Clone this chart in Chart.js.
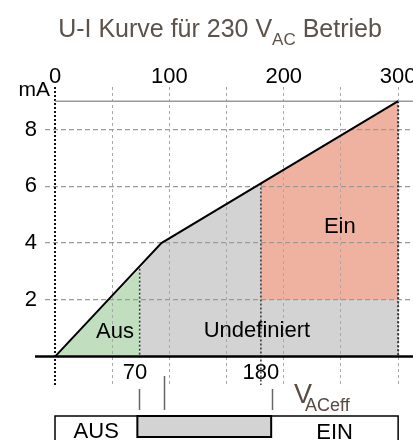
<!DOCTYPE html>
<html>
<head>
<meta charset="utf-8">
<script src="https://cdn.jsdelivr.net/npm/chart.js@4.4.0/dist/chart.umd.min.js"></script>
<style>
  html, body { margin: 0; padding: 0; background: #fff; overflow: hidden; }
  canvas { display: block; }
</style>
</head>
<body>
<canvas id="ui" width="413" height="440"></canvas>
<script>
// U-I curve (x in V, y in mA)
const curveV = [0, 93, 300];
const curveMA = [0, 4, 9];
// zones under the curve
const ausV = [0, 74];
const ausMA = [0, 3.1];
const undefV = [74, 93, 300];
const undefMA = [3.1, 4, 9];
const einV = [180, 300];
const einMA = [6.1, 9];
const einFloor = 2;
// axes
const xGridV = [0, 50, 100, 150, 200, 250, 300];
const xLabelV = [0, 100, 200, 300];
const yTickMA = [2, 4, 6, 8];
const limitV = [70, 180];
// switching bar underneath
const barV = [0, 72, 189, 300];
const barMarkV = [73, 95, 190];

const xMin = -8.75, xMax = 313, yMin = -1, yMax = 9.5;
const FONT = '"Liberation Sans", Arial, sans-serif';

const pts = (xs, ys) => xs.map((v, i) => ({x: v, y: ys[i]}));

const annotate = {
  id: 'annotate',
  afterDraw(chart) {
    const ctx = chart.ctx;
    const x = chart.scales.x, y = chart.scales.y;
    ctx.save();
    ctx.textBaseline = 'alphabetic';

    // title with subscript
    const parts = [['U-I Kurve für 230 V', 25, 0], ['AC', 17, 8], [' Betrieb', 25, 0]];
    let w = 0;
    parts.forEach(p => { ctx.font = p[1] + 'px ' + FONT; w += ctx.measureText(p[0]).width; });
    let tx = 220 - w / 2;
    ctx.fillStyle = '#5b524b';
    ctx.textAlign = 'left';
    parts.forEach(p => {
      ctx.font = p[1] + 'px ' + FONT;
      ctx.fillText(p[0], tx, 37 + p[2]);
      tx += ctx.measureText(p[0]).width;
    });

    // unit
    ctx.fillStyle = '#000';
    ctx.font = '21px ' + FONT;
    ctx.textAlign = 'right';
    ctx.fillText('mA', 50, 96);

    // zone labels
    ctx.textAlign = 'center';
    ctx.font = '22px ' + FONT;
    ctx.fillText('Aus', x.getPixelForValue(52.5), y.getPixelForValue(0.66));
    ctx.fillText('Undefiniert', x.getPixelForValue(176.5), y.getPixelForValue(0.69));
    ctx.fillText('Ein', x.getPixelForValue(249), y.getPixelForValue(4.35));

    // V_ACeff
    ctx.fillStyle = '#5b4a40';
    ctx.textAlign = 'left';
    ctx.font = '27px ' + FONT;
    ctx.fillText('V', 294, 403);
    ctx.font = '18px ' + FONT;
    ctx.fillText('ACeff', 305, 411);

    // marks
    ctx.strokeStyle = '#666';
    ctx.lineWidth = 1.5;
    barMarkV.forEach((v, i) => {
      const px = Math.round(x.getPixelForValue(v)) + 0.5;
      ctx.beginPath();
      ctx.moveTo(px, i === 1 ? 376 : 389);
      ctx.lineTo(px, 410);
      ctx.stroke();
    });

    // bar
    const bx = barV.map(v => x.getPixelForValue(v));
    ctx.strokeStyle = '#000';
    ctx.lineWidth = 1.5;
    ctx.strokeRect(bx[0], 416, bx[3] - bx[0], 40);
    ctx.fillStyle = '#d3d3d3';
    ctx.fillRect(bx[1], 416, bx[2] - bx[1], 21);
    ctx.lineWidth = 2;
    ctx.strokeRect(bx[1], 416, bx[2] - bx[1], 21);

    ctx.fillStyle = '#000';
    ctx.textAlign = 'center';
    ctx.font = '22px ' + FONT;
    ctx.fillText('AUS', (bx[0] + bx[1]) / 2, 438);
    ctx.fillText('EIN', (bx[2] + bx[3]) / 2, 439);
    ctx.restore();
  }
};

const tickFont = {size: 22, family: FONT};

new Chart(document.getElementById('ui'), {
  type: 'line',
  data: {
    datasets: [
      {data: pts(curveV, curveMA), borderColor: '#000', borderWidth: 2, order: 0},
      {data: pts([-17.5, xMax], [0, 0]), borderColor: '#000', borderWidth: 2.5, clip: false, order: 1},
      {data: pts([0, xMax], [9, 9]), borderColor: '#999', borderWidth: 1.5, order: 2},
      {data: pts([0, 0], [yMin, yMax]), borderColor: '#111', borderWidth: 2, borderDash: [2, 2], order: 3},
      {data: pts([ausV[1], ausV[1]], [ausMA[1], 0]), borderColor: '#333', borderWidth: 1.5, borderDash: [2, 2], order: 4},
      {data: pts([einV[0], einV[0]], [einMA[0], yMin]), borderColor: '#333', borderWidth: 1.5, borderDash: [2, 2], order: 5},
      {data: pts([einV[1], einV[1]], [einMA[1], 0]), borderColor: '#333', borderWidth: 2, borderDash: [2, 2], order: 6},
      {data: pts(einV, einMA), borderWidth: 0, backgroundColor: '#efb2a0', fill: {value: einFloor}, order: 7},
      {data: pts(undefV, undefMA), borderWidth: 0, backgroundColor: '#d3d3d3', fill: 'origin', order: 8},
      {data: pts(ausV, ausMA), borderWidth: 0, backgroundColor: '#c1dfbf', fill: 'origin', order: 9}
    ]
  },
  options: {
    responsive: false,
    animation: false,
    events: [],
    layout: {padding: {top: 57, left: 0, right: 0, bottom: 55}},
    elements: {point: {radius: 0}, line: {tension: 0}},
    plugins: {
      legend: {display: false},
      tooltip: {enabled: false},
      filler: {drawTime: 'beforeDraw'}
    },
    scales: {
      x: {
        type: 'linear', position: 'top', min: xMin, max: xMax,
        afterBuildTicks: s => { s.ticks = xGridV.map(v => ({value: v})); },
        afterFit: s => { s.height = 30; s.paddingLeft = 0; s.paddingRight = 0; },
        grid: {drawTicks: false, lineWidth: 1, color: c => (c.tick && c.tick.value === 0) ? 'rgba(0,0,0,0)' : '#a8a8a8'},
        border: {display: false, dash: [3, 3]},
        ticks: {padding: -3, color: '#000', font: tickFont, maxRotation: 0, autoSkip: false,
                callback: v => xLabelV.includes(v) ? String(v) : ''}
      },
      x2: {
        type: 'linear', position: {y: 0}, min: xMin, max: xMax,
        afterBuildTicks: s => { s.ticks = limitV.map(v => ({value: v})); },
        afterFit: s => { s.paddingLeft = 0; s.paddingRight = 0; },
        grid: {display: false, drawTicks: false},
        border: {display: false},
        ticks: {padding: 3, color: '#000', font: tickFont, maxRotation: 0, autoSkip: false}
      },
      y: {
        type: 'linear', position: 'left', min: yMin, max: yMax,
        afterBuildTicks: s => { s.ticks = yTickMA.map(v => ({value: v})); },
        afterFit: s => { s.width = 45; },
        grid: {drawTicks: false, lineWidth: 1.2, color: '#9a9a9a'},
        border: {display: false, dash: [5, 3]},
        ticks: {padding: 8, color: '#000', font: tickFont}
      }
    }
  },
  plugins: [annotate]
});
</script>
</body>
</html>
